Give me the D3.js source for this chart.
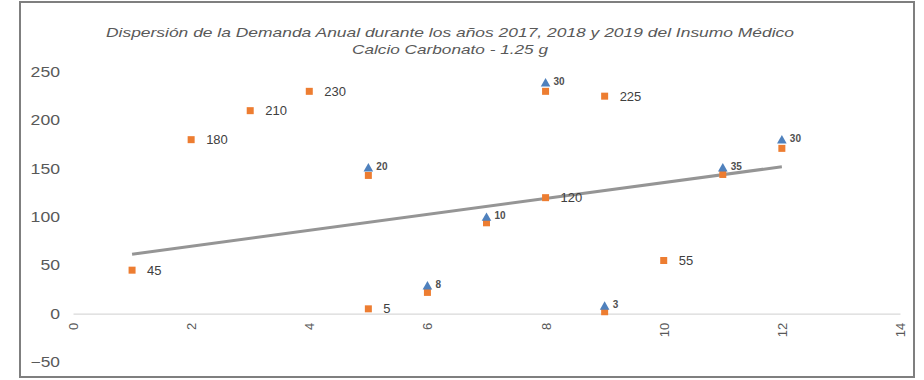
<!DOCTYPE html>
<html><head><meta charset="utf-8">
<script src="https://cdn.jsdelivr.net/npm/d3@7"></script>
<style>body{margin:0;background:#fff}svg{display:block}</style>
</head><body>
<script>
// --- data ---
const titleLines = ["Dispersión de la Demanda Anual durante los años 2017, 2018 y 2019 del Insumo Médico", "Calcio Carbonato - 1.25 g"];
const yTicks = [-50, 0, 50, 100, 150, 200, 250];
const xTicks = [0, 2, 4, 6, 8, 10, 12, 14];
// labelled orange series
const orangeX = [1, 2, 3, 4, 5, 8, 9, 10];
const orangeY = [45, 180, 210, 230, 5, 120, 225, 55];
// second orange series hidden beneath blue markers
const orange2X = [5, 6, 7, 8, 9, 11, 12];
const orange2Y = [143, 22, 94, 230, 2, 144, 171];
// blue series
const blueX = [5, 6, 7, 8, 9, 11, 12];
const blueY = [150, 28, 99, 238, 7, 150, 179];
const blueLabels = ["20", "8", "10", "30", "3", "35", "30"];
// trend line endpoints
const trendX = [1, 12];
const trendY = [61.5, 152];

const W = 924, H = 380;
const svg = d3.select("body").append("svg").attr("width", W).attr("height", H);
svg.append("rect").attr("x", 20).attr("y", 2).attr("width", 894).attr("height", 375)
  .attr("fill", "#fff").attr("stroke", "#7f7f7f").attr("stroke-width", 2);

const x = d3.scaleLinear().domain([0, 14]).range([73, 900]);
const y = d3.scaleLinear().domain([-50, 250]).range([362, 72]);
const font = "Liberation Sans, Arial, sans-serif";

// title (reference text is horizontally stretched)
const titleW = [688, 196];
svg.selectAll("text.title").data(titleLines).enter().append("text")
  .attr("x", 450).attr("y", (d, i) => 37 + i * 17)
  .attr("text-anchor", "middle").attr("font-family", font).attr("font-size", 13.5)
  .attr("font-style", "italic").attr("fill", "#595959")
  .attr("textLength", (d, i) => titleW[i]).attr("lengthAdjust", "spacingAndGlyphs")
  .text(d => d);

// y axis labels
const yAxis = d3.axisLeft(y).tickValues(yTicks).tickSize(0).tickPadding(0);
const gy = svg.append("g").attr("transform", "translate(60,0)").call(yAxis);
gy.select(".domain").remove();
gy.selectAll("text").attr("font-family", font).attr("font-size", 14.5).attr("fill", "#595959")
  .attr("textLength", function () { return this.textContent.length * 9.8; })
  .attr("lengthAdjust", "spacingAndGlyphs");

// zero line + x labels
const xAxis = d3.axisBottom(x).tickValues(xTicks).tickSize(0).tickPadding(0);
const gx = svg.append("g").attr("transform", `translate(0,${y(0)})`).call(xAxis);
gx.select(".domain").attr("stroke", "#d9d9d9").attr("stroke-width", 1.2);
gx.selectAll("text").attr("font-family", font).attr("font-size", 13).attr("fill", "#595959")
  .attr("transform", "translate(0,9) rotate(-90)").attr("text-anchor", "end")
  .attr("x", 0).attr("y", 0).attr("dy", "0.35em");

// trend line
svg.append("line").attr("x1", x(trendX[0])).attr("y1", y(trendY[0]))
  .attr("x2", x(trendX[1])).attr("y2", y(trendY[1]))
  .attr("stroke", "#959595").attr("stroke-width", 3);

// orange hidden series
const sq = 7;
svg.selectAll("rect.o2").data(orange2X).enter().append("rect")
  .attr("x", (d) => x(d) - sq / 2).attr("y", (d, i) => y(orange2Y[i]) - sq / 2)
  .attr("width", sq).attr("height", sq).attr("fill", "#ED7D31");

// blue series
svg.selectAll("path.b").data(blueX).enter().append("path")
  .attr("d", d3.symbol(d3.symbolTriangle, 40))
  .attr("transform", (d, i) => `translate(${x(d)},${y(blueY[i])})`)
  .attr("fill", "#4F81BD");
svg.selectAll("text.bl").data(blueX).enter().append("text")
  .attr("x", d => x(d) + 8).attr("y", (d, i) => y(blueY[i]) - 2)
  .attr("dy", "0.35em").attr("font-family", font).attr("font-size", 10).attr("font-weight", "bold")
  .attr("fill", "#505050").text((d, i) => blueLabels[i]);

// orange labelled series
svg.selectAll("rect.o").data(orangeX).enter().append("rect")
  .attr("x", (d) => x(d) - sq / 2).attr("y", (d, i) => y(orangeY[i]) - sq / 2)
  .attr("width", sq).attr("height", sq).attr("fill", "#ED7D31");
svg.selectAll("text.ol").data(orangeX).enter().append("text")
  .attr("x", d => x(d) + 15).attr("y", (d, i) => y(orangeY[i]))
  .attr("dy", "0.35em").attr("font-family", font).attr("font-size", 13)
  .attr("fill", "#404040").text((d, i) => orangeY[i]);
</script>
</body></html>
